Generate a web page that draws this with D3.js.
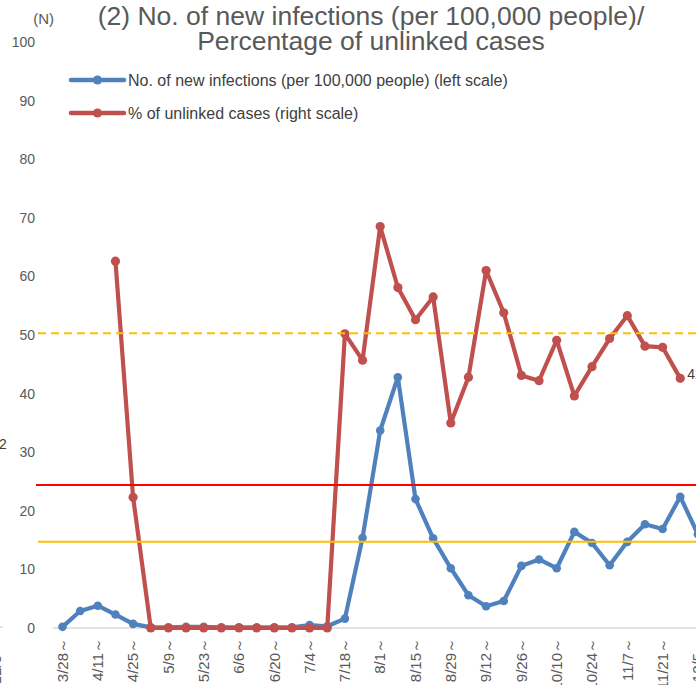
<!DOCTYPE html>
<html>
<head>
<meta charset="utf-8">
<script src="https://cdn.jsdelivr.net/npm/d3@7"></script>
<style>
  html, body { margin: 0; padding: 0; background: #fff; overflow: hidden; }
  svg { display: block; font-family: "Liberation Sans", Arial, sans-serif; }
</style>
</head>
<body>
<svg id="chart" width="696" height="685"></svg>
<script>
// ---- data ----
const categories = ["3/28","4/4","4/11","4/18","4/25","5/2","5/9","5/16","5/23","5/30",
  "6/6","6/13","6/20","6/27","7/4","7/11","7/18","7/25","8/1","8/8",
  "8/15","8/22","8/29","9/5","9/12","9/19","9/26","10/3","10/10","10/17",
  "10/24","10/31","11/7","11/14","11/21","11/28","12/5"];
const newInfections = [0.2,2.9,3.8,2.3,0.7,0.1,0.1,0.2,0.2,0.1,
  0.1,0.1,0.1,0.1,0.5,0.3,1.6,15.4,33.7,42.8,
  22.0,15.3,10.2,5.6,3.7,4.6,10.6,11.7,10.2,16.4,
  14.5,10.7,14.7,17.7,16.9,22.4,16.0];
const unlinkedPct = [null,null,null,62.6,22.3,0,0,0,0,0,
  0,0,0,0,0,0,50.2,45.7,68.5,58.1,
  52.6,56.5,35.0,42.8,61.0,53.8,43.1,42.2,49.1,39.6,
  44.6,49.4,53.3,48.1,47.9,42.6,null];
const yTicks = [0,10,20,30,40,50,60,70,80,90,100];
const refLineRed = 24.4;      // left scale
const refLineYellow = 14.7;   // left scale
const refLineDashed = 50.3;   // right scale
const titleLines = ["(2) No. of new infections (per 100,000 people)/", "Percentage of unlinked cases"];
const legendLabels = ["No. of new infections (per 100,000 people) (left scale)", "% of unlinked cases (right scale)"];

// ---- drawing ----
const svg = d3.select("#chart");
const W = 696, H = 685;
const blue = "#4F81BD", red = "#C0504D", textCol = "#595959";

const x = d3.scalePoint().domain(categories).range([62.5, 62.5 + 17.65 * (categories.length - 1)]);
const yL = d3.scaleLinear().domain([0, 100]).range([628, 42]);
const yR = d3.scaleLinear().domain([0, 100]).range([628, 42]);

// title
svg.append("g").selectAll("text").data(titleLines).join("text")
  .attr("x", 371).attr("y", (d, i) => 25 + i * 24.5)
  .attr("text-anchor", "middle").attr("font-size", 26.5).attr("fill", textCol)
  .text(d => d);

// (N)
svg.append("text").attr("x", 54).attr("y", 24).attr("text-anchor", "end")
  .attr("font-size", 15).attr("fill", textCol).text("(N)");

// neighbor chart fragments at the left edge
svg.append("text").attr("x", -1).attr("y", 449).attr("font-size", 14).attr("fill", "#404040").text("2");
svg.append("line").attr("x1", -5).attr("x2", 3).attr("y1", 627).attr("y2", 627)
  .attr("stroke", "#D9D9D9").attr("stroke-width", 1.5);
svg.append("text").attr("transform", "translate(-4,640) rotate(-90)").attr("dy", "0.35em")
  .attr("text-anchor", "end").attr("font-size", 15).attr("fill", textCol).text("12/5～");

// left axis labels
const yAxis = d3.axisLeft(yL).tickValues(yTicks).tickSize(0).tickPadding(0);
const gy = svg.append("g").attr("transform", "translate(35,0)").call(yAxis);
gy.select(".domain").remove();
gy.selectAll("text").attr("font-size", 14).attr("fill", textCol)
  .attr("font-family", "\"Liberation Sans\", Arial, sans-serif");

// bottom axis line
svg.append("line").attr("x1", 53).attr("x2", W + 5).attr("y1", yL(0)).attr("y2", yL(0))
  .attr("stroke", "#D9D9D9").attr("stroke-width", 1.5);

// x labels (every other week)
const xLabelCats = categories.filter((d, i) => i % 2 === 0);
svg.append("g").selectAll("text").data(xLabelCats).join("text")
  .attr("transform", d => `translate(${x(d)},638) rotate(-90)`)
  .attr("dy", "0.35em").attr("text-anchor", "end")
  .attr("font-size", 15).attr("fill", textCol)
  .text(d => d + "～");

// series
function drawSeries(values, scale, color, r) {
  const pts = categories.map((c, i) => ({c, v: values[i]}));
  const line = d3.line().defined(d => d.v !== null)
    .x(d => x(d.c)).y(d => scale(d.v));
  svg.append("path").datum(pts).attr("d", line)
    .attr("fill", "none").attr("stroke", color).attr("stroke-width", 4.2)
    .attr("stroke-linejoin", "round").attr("stroke-linecap", "round");
  svg.append("g").selectAll("circle").data(pts.filter(d => d.v !== null)).join("circle")
    .attr("cx", d => x(d.c)).attr("cy", d => scale(d.v)).attr("r", r).attr("fill", color);
}
drawSeries(newInfections, yL, blue, 4.3);
drawSeries(unlinkedPct, yR, red, 4.6);

// last value label for red series
const lastIdx = unlinkedPct.reduce((a, v, i) => v !== null ? i : a, 0);
svg.append("text").attr("x", x(categories[lastIdx]) + 7).attr("y", yR(unlinkedPct[lastIdx]) - 4)
  .attr("dominant-baseline", "central").attr("font-size", 14).attr("fill", "#404040")
  .text(unlinkedPct[lastIdx].toFixed(1));

// reference lines (drawn on top)
svg.append("line").attr("x1", 36).attr("x2", W + 5).attr("y1", yL(refLineRed)).attr("y2", yL(refLineRed))
  .attr("stroke", "#FF0000").attr("stroke-width", 2);
svg.append("line").attr("x1", 38).attr("x2", W + 5).attr("y1", yL(refLineYellow)).attr("y2", yL(refLineYellow))
  .attr("stroke", "#FFC000").attr("stroke-width", 2);
svg.append("line").attr("x1", 38).attr("x2", W + 5).attr("y1", yR(refLineDashed)).attr("y2", yR(refLineDashed))
  .attr("stroke", "#FFC000").attr("stroke-width", 2).attr("stroke-dasharray", "8,5");

// legend
const lg = svg.append("g");
const legendColors = [blue, red];
legendLabels.forEach((lab, i) => {
  const ly = 80 + i * 33;
  lg.append("line").attr("x1", 71).attr("x2", 124).attr("y1", ly).attr("y2", ly)
    .attr("stroke", legendColors[i]).attr("stroke-width", 4.5).attr("stroke-linecap", "round");
  lg.append("circle").attr("cx", 97.5).attr("cy", ly).attr("r", 4.6).attr("fill", legendColors[i]);
  lg.append("text").attr("x", 128).attr("y", ly).attr("dominant-baseline", "central")
    .attr("font-size", 16).attr("fill", "#404040").text(lab);
});
</script>
</body>
</html>
